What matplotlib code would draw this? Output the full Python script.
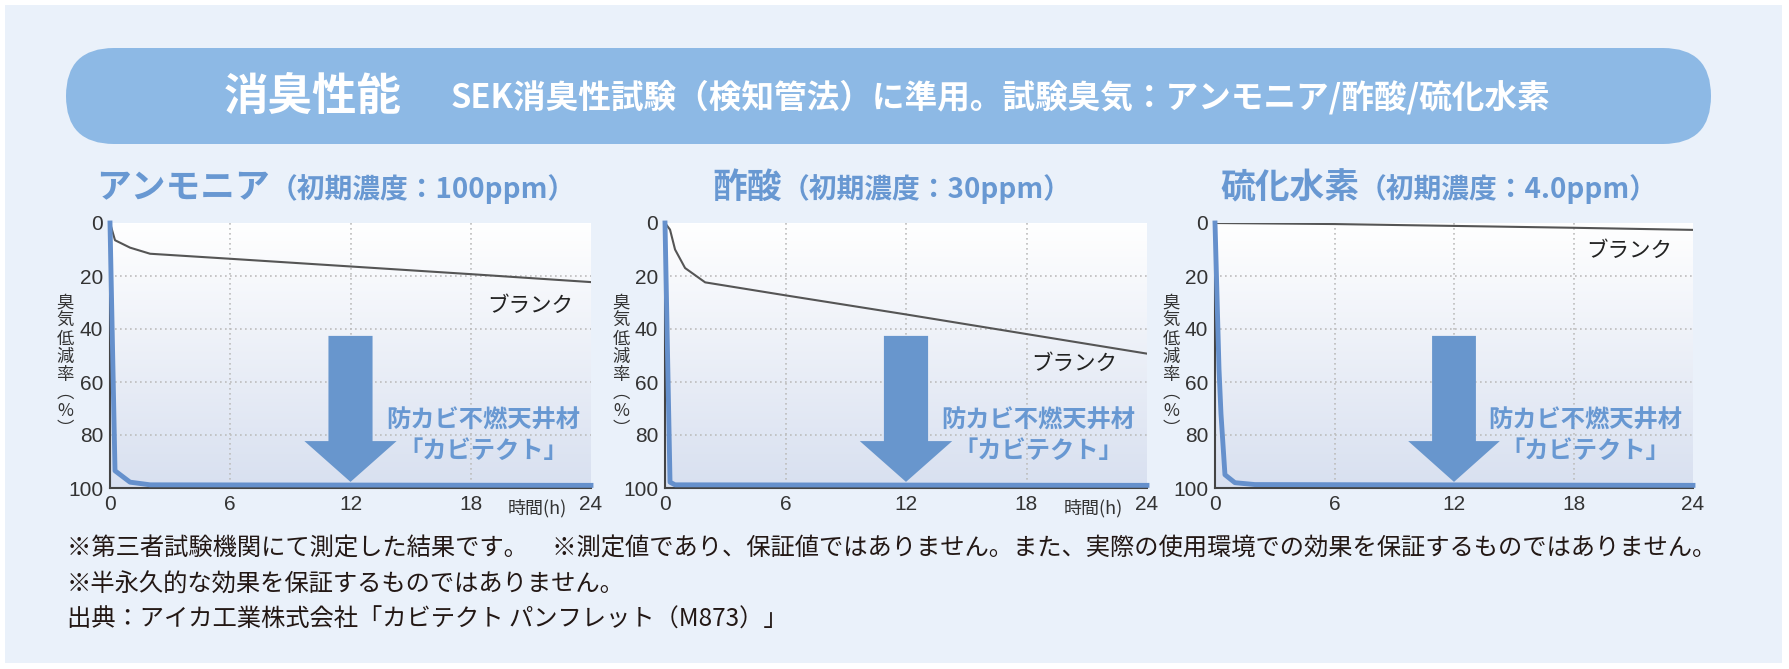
import numpy as np
import matplotlib.pyplot as plt
from matplotlib.patches import FancyBboxPatch, Rectangle, FancyArrow
from matplotlib.colors import LinearSegmentedColormap
from matplotlib.transforms import blended_transform_factory

plt.rcParams['font.family'] = ['Noto Sans CJK JP', 'DejaVu Sans']

W, H = 1789, 669

# data
hour_ticks = [0, 6, 12, 18, 24]
rate_ticks = [0, 20, 40, 60, 80, 100]

gas_names = ['アンモニア', '酢酸', '硫化水素']
gas_conc = ['（初期濃度：100ppm）', '（初期濃度：30ppm）', '（初期濃度：4.0ppm）']

nh3_blank_t = [0, 0.25, 1, 2, 6, 12, 18, 24]
nh3_blank = [0, 6.5, 9.3, 11.6, 13.5, 16.4, 19.3, 22.3]
nh3_prod_t = [0, 0.25, 1, 2, 24]
nh3_prod = [0, 93.5, 97.8, 98.8, 99.0]

acid_blank_t = [0, 0.25, 0.5, 1, 2, 6, 12, 18, 24]
acid_blank = [0, 2.5, 10, 17, 22.4, 27.3, 34.5, 41.9, 49.3]
acid_prod_t = [0, 0.25, 0.5, 24]
acid_prod = [0, 97.8, 98.8, 99.0]

h2s_blank_t = [0, 6, 12, 18, 24]
h2s_blank = [0, 0.4, 1.1, 1.8, 2.6]
h2s_prod_t = [0, 0.2, 0.3, 0.5, 1, 2, 24]
h2s_prod = [0, 55, 72, 95, 98, 98.7, 99.0]

blank_t = [nh3_blank_t, acid_blank_t, h2s_blank_t]
blank_v = [nh3_blank, acid_blank, h2s_blank]
prod_t = [nh3_prod_t, acid_prod_t, h2s_prod_t]
prod_v = [nh3_prod, acid_prod, h2s_prod]

blank_label_pos = [(20.95, 31.3), (20.4, 53.2), (20.8, 10.6)]

footnotes = [
    '※第三者試験機関にて測定した結果です。　※測定値であり、保証値ではありません。また、実際の使用環境での効果を保証するものではありません。',
    '※半永久的な効果を保証するものではありません。',
    '出典：アイカ工業株式会社「カビテクト パンフレット（M873）」',
]

# layout (pixels)
ax_left = [110, 665, 1215]
ax_right = [591, 1147, 1693]
ax_top, ax_bot = 223, 488
title_x = [96, 712, 1220]
ylab_x = [65, 621, 1171]

title_blue = '#6898D2'
arrow_blue = '#6896CD'
line_blue = '#6590CC'
dark = '#231815'

fig = plt.figure(figsize=(W / 100, H / 100), dpi=100)
fig.patch.set_facecolor('white')

bg = fig.add_axes([0, 0, 1, 1])
bg.set_xlim(0, W)
bg.set_ylim(H, 0)
bg.axis('off')

bg.add_patch(Rectangle((5, 5), 1777, 658, fc='#EAF1FA', ec='none'))
bg.add_patch(FancyBboxPatch((66, 48), 1711 - 66, 96,
                            boxstyle='round,pad=0,rounding_size=48',
                            fc='#8DB9E5', ec='none'))
bg.text(224, 97, '消臭性能', color='white', fontsize=32, fontweight='bold',
        ha='left', va='center')
bg.text(451, 97, 'SEK消臭性試験（検知管法）に準用。試験臭気：アンモニア/酢酸/硫化水素',
        color='white', fontsize=23.5, fontweight='bold', ha='left', va='center')

renderer = fig.canvas.get_renderer()
for i in range(3):
    t1 = bg.text(title_x[i], 198, gas_names[i], color=title_blue, fontsize=25,
                 fontweight='bold', ha='left', va='baseline')
    bb = t1.get_window_extent(renderer=renderer)
    bg.text(bb.x1, 198, gas_conc[i], color=title_blue, fontsize=20,
            fontweight='bold', ha='left', va='baseline')
    bg.text(ylab_x[i], 366, '臭\n気\n低\n減\n率\n︵\n%\n︶', ha='center',
            va='center', fontsize=12.5, linespacing=1.0, color='#333333')

for y, line in zip([549, 585, 620], footnotes):
    bg.text(67, y, line, color=dark, fontsize=17.5, ha='left', va='center')

grad = np.linspace(0, 1, 256).reshape(-1, 1)
cmap = LinearSegmentedColormap.from_list('bgfade', ['#FFFFFF', '#D8E0F0'])

for i in range(3):
    ax = fig.add_axes([ax_left[i] / W, 1 - ax_bot / H,
                       (ax_right[i] - ax_left[i]) / W, (ax_bot - ax_top) / H])
    ax.imshow(grad, extent=(0, 24, 100, 0), aspect='auto', cmap=cmap,
              origin='upper', zorder=0)
    ax.set_xlim(0, 24)
    ax.set_ylim(100, 0)
    ax.set_xticks(hour_ticks)
    ax.set_yticks(rate_ticks)
    ax.vlines(hour_ticks[1:-1], 0, 100, colors='#BDBDBD', lw=1.2,
              linestyles=(0, (1, 2)), zorder=1)
    ax.hlines(rate_ticks[1:-1], 0, 24, colors='#BDBDBD', lw=1.2,
              linestyles=(0, (1, 2)), zorder=1)
    ax.tick_params(length=0, labelsize=15, colors='#333333')
    ax.tick_params(axis='x', pad=5)
    ax.tick_params(axis='y', pad=5)
    for lab in ax.get_xticklabels() + ax.get_yticklabels():
        lab.set_fontfamily('Liberation Sans')
    for s in ['top', 'right']:
        ax.spines[s].set_visible(False)
    for s in ['left', 'bottom']:
        ax.spines[s].set_color('#444444')
        ax.spines[s].set_linewidth(1.5)

    ax.plot(blank_t[i], blank_v[i], color='#555555', lw=1.5, zorder=3)
    ax.plot(prod_t[i], prod_v[i], color=line_blue, lw=3.5, zorder=4,
            solid_joinstyle='round', clip_on=False)

    ax.add_patch(FancyArrow(12, 42.6, 0, 55.1, width=2.2, head_width=4.6,
                            head_length=15.4, length_includes_head=True,
                            color=arrow_blue, lw=0, zorder=3))
    ax.text(18.6, 74.7, '防カビ不燃天井材', ha='center', va='center',
            fontsize=17.5, fontweight='bold', color=title_blue, zorder=5)
    ax.text(18.6, 86.0, '「カビテクト」', ha='center', va='center',
            fontsize=17.5, fontweight='bold', color=title_blue, zorder=5)
    bx, by = blank_label_pos[i]
    ax.text(bx, by, 'ブランク', ha='center', va='center', fontsize=15.5,
            color='#222222', zorder=5)
    if i < 2:
        tr = blended_transform_factory(ax.transData, ax.transAxes)
        ax.text(22.8, -0.075, '時間(h)', transform=tr, ha='right', va='center',
                fontsize=13, color='#333333')

fig.savefig('out.png', dpi=100)
